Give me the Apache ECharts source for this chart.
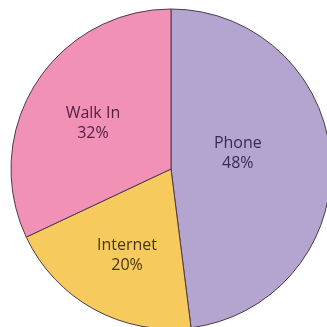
<!DOCTYPE html>
<html>
<head>
<meta charset="utf-8">
<style>
  html, body { margin: 0; padding: 0; background: #ffffff; }
  #chart { width: 327px; height: 327px; }
</style>
<script src="https://cdn.jsdelivr.net/npm/echarts@6/dist/echarts.min.js"></script>
</head>
<body>
<div id="chart"></div>
<script>
// How customers place their orders
const channels = ['Phone', 'Internet', 'Walk In'];
const shares = [48, 20, 32];
const sliceColors = ['#b4a4d0', '#f6ca5c', '#f191b6'];
const labelColors = ['#382b52', '#463515', '#562041'];
// small nudges so each label sits where it reads best in its slice
const labelNudge = [[-16, -10], [-4, 14], [-8, -1]];

const chart = echarts.init(document.getElementById('chart'));
chart.setOption({
  animation: false,
  backgroundColor: '#ffffff',
  series: [{
    type: 'pie',
    center: [171, 169],
    radius: 160,
    startAngle: 90,
    clockwise: true,
    silent: true,
    data: channels.map((name, i) => ({
      name: name,
      value: shares[i],
      itemStyle: { color: sliceColors[i] },
      label: { color: labelColors[i] }
    })),
    itemStyle: { borderColor: '#4e3a48', borderWidth: 1 },
    label: {
      show: true,
      position: 'inner',
      formatter: p => p.name + '\n' + p.value + '%',
      fontFamily: '"Open Sans", "Noto Sans", sans-serif',
      fontSize: 16,
      lineHeight: 20
    },
    labelLayout: p => ({ dx: labelNudge[p.dataIndex][0], dy: labelNudge[p.dataIndex][1] }),
    labelLine: { show: false }
  }]
});
</script>
</body>
</html>
